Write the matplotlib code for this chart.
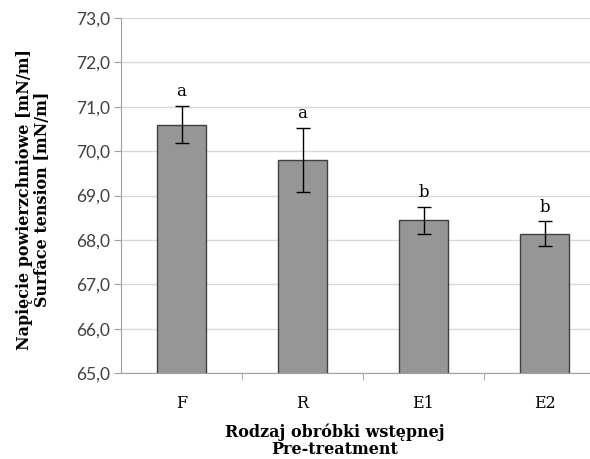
import matplotlib.pyplot as plt
from matplotlib.ticker import FixedLocator, FuncFormatter

# dane
categories = ['F', 'R', 'E1', 'E2']
values = [70.60, 69.80, 68.44, 68.14]
errors = [0.42, 0.72, 0.31, 0.28]
letters = ['a', 'a', 'b', 'b']
yticks = [65, 66, 67, 68, 69, 70, 71, 72, 73]

fig = plt.figure(figsize=(5.90, 4.59), dpi=100)
# obszar wykresu wychodzi trochę poza prawy brzeg (jak w oryginale)
ax = fig.add_axes([121 / 590, 86 / 459, 484 / 590, 355 / 459])

x = range(len(categories))
ax.bar(x, values, width=0.4, bottom=0, color='#969696', edgecolor='#404040',
       linewidth=1.0, zorder=3)
ax.errorbar(x, values, yerr=errors, fmt='none', ecolor='black', elinewidth=1.0,
            capsize=5, capthick=1.0, zorder=4)

for xi, v, e, l in zip(x, values, errors, letters):
    ax.annotate(l, (xi, v + e), xytext=(0, 4), textcoords='offset points',
                ha='center', va='bottom', fontsize=12, family='DejaVu Serif')

ax.set_ylim(65, 73)
ax.set_xlim(-0.5, 3.5)
ax.yaxis.set_major_locator(FixedLocator(yticks))
ax.yaxis.set_major_formatter(FuncFormatter(lambda v, p: f'{v:.1f}'.replace('.', ',')))
for t in ax.get_yticklabels():
    t.set_family('Lato')
    t.set_fontsize(12.5)
    t.set_color('#404040')
ax.tick_params(axis='y', length=5, color='#a0a0a0', pad=3)

ax.set_xticks(list(x))
ax.set_xticklabels(categories, family='DejaVu Serif', fontsize=11.5)
ax.set_xticks([0.5, 1.5, 2.5], minor=True)
ax.tick_params(axis='x', which='major', length=0, pad=16)
ax.tick_params(axis='x', which='minor', length=5, color='#a0a0a0')

ax.grid(axis='y', color='#d9d9d9', linewidth=1.0, zorder=0)
for s in ['top', 'right']:
    ax.spines[s].set_visible(False)
ax.spines['left'].set_color('#a0a0a0')
ax.spines['bottom'].set_color('#a0a0a0')

ax.set_xlabel('Rodzaj obróbki wstępnej\nPre-treatment', family='DejaVu Serif',
              fontweight='bold', fontsize=11.5, linespacing=1.0)
ax.xaxis.set_label_coords((335 - 121) / 484, -0.143)
ax.set_ylabel('Napięcie powierzchniowe [mN/m]\nSurface tension [mN/m]',
              family='DejaVu Serif', fontweight='bold', fontsize=11.5, linespacing=1.1)
ax.yaxis.set_label_coords(-0.145, 0.49)

fig.savefig('out.png', dpi=100)
